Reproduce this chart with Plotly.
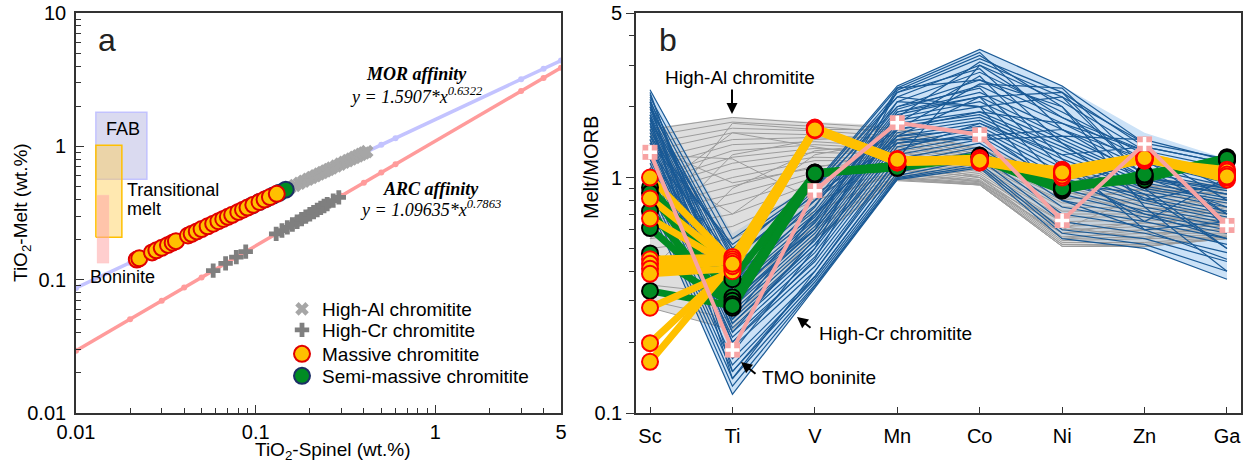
import numpy as np
import plotly.graph_objects as go

FONT = "Liberation Sans, Arial, sans-serif"
SERIF = "Liberation Serif, Times New Roman, serif"

# ---------------- Panel a: TiO2 melt vs TiO2 spinel ----------------
# fitted equations (coefficient, exponent)
mor_coef, mor_exp = 1.5907, 0.6322
arc_coef, arc_exp = 1.09635, 0.7863
fit_x = [0.01, 0.02, 0.03, 0.04, 0.05, 0.3, 0.4, 0.5, 0.6, 3, 4, 5]

high_al_sp = [0.155, 0.165, 0.175, 0.185, 0.195, 0.205, 0.215, 0.225, 0.235, 0.245,
              0.255, 0.265, 0.28, 0.295, 0.31, 0.325, 0.34, 0.355, 0.37, 0.385, 0.40, 0.415]
high_al_melt = [0.4894, 0.5091, 0.5284, 0.5474, 0.5658, 0.5841, 0.6020, 0.6196, 0.6368, 0.6537,
                0.6705, 0.6869, 0.7113, 0.7351, 0.7586, 0.7815, 0.8042, 0.8264, 0.8484, 0.8701,
                0.8913, 0.9122]

high_cr_sp = [0.058, 0.068, 0.078, 0.088, 0.13, 0.14, 0.15, 0.16, 0.17, 0.18, 0.19, 0.20,
              0.21, 0.22, 0.23, 0.24, 0.25, 0.27, 0.29]
high_cr_melt = [0.1168, 0.1324, 0.1475, 0.1622, 0.2204, 0.2336, 0.2466, 0.2594, 0.2721, 0.2846,
                0.2970, 0.3092, 0.3213, 0.3333, 0.3452, 0.3570, 0.3686, 0.3916, 0.4143]

massive_sp = [0.0218, 0.0225, 0.0265, 0.028, 0.030, 0.0325, 0.0345, 0.036, 0.042, 0.044,
              0.047, 0.050, 0.054, 0.058, 0.062, 0.066, 0.070, 0.074, 0.080, 0.085,
              0.090, 0.097, 0.105, 0.112, 0.120, 0.131]
massive_melt = [0.1416, 0.1445, 0.1602, 0.1659, 0.1733, 0.1823, 0.1893, 0.1945, 0.2144, 0.2208,
                0.2302, 0.2394, 0.2513, 0.2629, 0.2743, 0.2853, 0.2961, 0.3067, 0.3222, 0.3348,
                0.3471, 0.3639, 0.3826, 0.3985, 0.4164, 0.4401]

semi_sp = [0.095, 0.105, 0.115, 0.125, 0.135, 0.147]
semi_melt = [0.3591, 0.3826, 0.4053, 0.4272, 0.4485, 0.4733]

# reference fields: (TiO2-spinel range, TiO2-melt range)
fab_box = ([0.0129, 0.0248], [0.566, 1.80])
trans_box = ([0.0129, 0.018], [0.208, 1.02])
bon_box = ([0.0131, 0.01525], [0.133, 0.43])

# ---------------- Panel b: Melt/MORB spider diagram ----------------
elements = ["Sc", "Ti", "V", "Mn", "Co", "Ni", "Zn", "Ga"]

high_al_max = [1.62, 1.81, 1.72, 1.66, 1.35, 1.05, 1.00, 0.95]
high_al_min = [0.28, 0.225, 0.55, 0.97, 0.93, 0.51, 0.51, 0.55]
high_cr_max = [2.36, 0.58, 0.95, 2.45, 3.50, 2.45, 1.55, 1.20]
high_cr_min = [0.75, 0.12, 0.345, 0.98, 1.10, 0.55, 0.50, 0.37]

high_al_lines = [
    [1.60, 1.80, 1.70, 1.62, 1.30, 1.02, 0.98, 0.92],
    [1.50, 1.72, 1.65, 1.55, 1.28, 0.95, 0.92, 0.88],
    [1.40, 1.62, 1.58, 1.50, 1.25, 0.90, 0.88, 0.85],
    [1.30, 1.55, 1.52, 1.45, 1.22, 0.86, 0.84, 0.80],
    [1.20, 1.45, 1.48, 1.40, 1.20, 0.82, 0.80, 0.78],
    [1.10, 1.38, 1.42, 1.35, 1.18, 0.78, 0.78, 0.75],
    [1.00, 1.30, 1.38, 1.32, 1.15, 0.75, 0.74, 0.72],
    [0.95, 1.22, 1.33, 1.28, 1.12, 0.72, 0.72, 0.70],
    [0.90, 1.15, 1.28, 1.25, 1.10, 0.70, 0.70, 0.68],
    [0.85, 1.08, 1.22, 1.20, 1.08, 0.68, 0.68, 0.66],
    [0.80, 1.00, 1.18, 1.18, 1.06, 0.65, 0.66, 0.65],
    [0.75, 0.92, 1.12, 1.15, 1.04, 0.62, 0.64, 0.63],
    [0.70, 0.85, 1.05, 1.12, 1.02, 0.60, 0.62, 0.62],
    [0.65, 0.78, 1.00, 1.10, 1.00, 0.58, 0.60, 0.60],
    [0.60, 0.70, 0.95, 1.08, 0.98, 0.56, 0.58, 0.58],
    [0.55, 0.62, 0.88, 1.05, 0.97, 0.55, 0.56, 0.57],
    [0.50, 0.55, 0.80, 1.03, 0.96, 0.54, 0.55, 0.56],
    [0.45, 0.48, 0.72, 1.01, 0.95, 0.53, 0.53, 0.56],
    [0.40, 0.40, 0.66, 1.00, 0.94, 0.52, 0.52, 0.55],
    [0.35, 0.32, 0.60, 0.99, 0.93, 0.52, 0.51, 0.56],
    [0.30, 0.25, 0.56, 0.98, 0.93, 0.51, 0.51, 0.55],
    [0.28, 0.225, 0.55, 0.97, 0.93, 0.51, 0.51, 0.55],
    [0.55, 1.25, 1.45, 1.50, 1.25, 0.88, 0.70, 0.62],
    [1.35, 0.95, 1.10, 1.30, 1.10, 0.60, 0.85, 0.90],
    [0.85, 1.55, 1.35, 1.20, 1.00, 0.65, 0.58, 0.60],
    [1.15, 0.70, 1.25, 1.45, 1.22, 0.92, 0.75, 0.70],
    [1.55, 0.50, 0.70, 1.10, 1.00, 0.55, 0.60, 0.75],
    [0.60, 1.70, 1.60, 1.60, 1.32, 1.00, 0.95, 0.70],
    [1.25, 1.20, 0.80, 1.05, 0.96, 0.62, 0.55, 0.65],
    [0.40, 0.90, 1.30, 1.40, 1.15, 0.80, 0.90, 0.85],
    [0.95, 0.35, 0.62, 1.00, 0.94, 0.58, 0.65, 0.92],
]

high_cr_lines = [
    [2.36, 0.55, 0.95, 2.45, 3.50, 2.45, 1.40, 1.20],
    [2.20, 0.50, 0.90, 2.30, 3.20, 2.30, 1.35, 1.15],
    [2.10, 0.46, 0.85, 2.20, 3.00, 2.10, 1.30, 1.10],
    [2.00, 0.42, 0.80, 2.10, 2.80, 1.90, 1.25, 1.05],
    [1.90, 0.40, 0.76, 2.00, 2.60, 1.80, 1.20, 1.00],
    [1.85, 0.38, 0.72, 1.95, 2.45, 1.70, 1.15, 0.95],
    [1.80, 0.36, 0.70, 1.90, 2.30, 1.60, 1.10, 0.92],
    [1.75, 0.34, 0.68, 1.85, 2.20, 1.50, 1.05, 0.90],
    [1.70, 0.33, 0.66, 1.80, 2.10, 1.45, 1.00, 0.88],
    [1.65, 0.32, 0.64, 1.75, 2.00, 1.40, 0.98, 0.85],
    [1.60, 0.30, 0.62, 1.70, 1.90, 1.35, 0.95, 0.82],
    [1.55, 0.29, 0.60, 1.65, 1.85, 1.30, 0.92, 0.80],
    [1.50, 0.28, 0.58, 1.60, 1.80, 1.25, 0.90, 0.78],
    [1.45, 0.27, 0.56, 1.55, 1.75, 1.20, 0.88, 0.75],
    [1.40, 0.26, 0.54, 1.50, 1.70, 1.15, 0.85, 0.72],
    [1.35, 0.25, 0.52, 1.45, 1.65, 1.10, 0.82, 0.70],
    [1.30, 0.24, 0.50, 1.40, 1.60, 1.05, 0.80, 0.68],
    [1.25, 0.23, 0.48, 1.35, 1.55, 1.00, 0.78, 0.66],
    [1.20, 0.22, 0.46, 1.30, 1.50, 0.95, 0.75, 0.64],
    [1.15, 0.21, 0.44, 1.25, 1.45, 0.90, 0.72, 0.62],
    [1.10, 0.20, 0.42, 1.20, 1.40, 0.85, 0.70, 0.60],
    [1.05, 0.19, 0.40, 1.15, 1.35, 0.80, 0.68, 0.58],
    [1.00, 0.17, 0.38, 1.10, 1.30, 0.75, 0.65, 0.55],
    [0.95, 0.16, 0.37, 1.05, 1.25, 0.70, 0.62, 0.52],
    [0.90, 0.15, 0.36, 1.02, 1.20, 0.65, 0.58, 0.48],
    [0.85, 0.14, 0.35, 1.00, 1.15, 0.60, 0.55, 0.44],
    [0.80, 0.13, 0.345, 0.99, 1.12, 0.58, 0.52, 0.40],
    [0.75, 0.12, 0.34, 0.98, 1.10, 0.55, 0.50, 0.37],
    [2.25, 0.30, 0.60, 2.40, 3.40, 1.60, 1.00, 0.90],
    [1.95, 0.45, 0.88, 1.60, 2.50, 2.40, 1.10, 0.70],
    [1.40, 0.52, 0.92, 2.20, 2.00, 2.20, 1.40, 0.60],
    [1.70, 0.18, 0.50, 2.35, 3.30, 2.00, 0.90, 0.50],
    [2.30, 0.25, 0.70, 1.50, 1.60, 0.90, 1.20, 1.10],
    [1.20, 0.40, 0.80, 1.70, 2.70, 1.20, 0.60, 0.45],
    [1.80, 0.14, 0.40, 1.20, 3.00, 1.80, 1.30, 0.80],
    [2.00, 0.22, 0.55, 1.90, 2.20, 2.30, 1.00, 0.75],
    [1.60, 0.35, 0.75, 2.30, 2.90, 1.40, 0.80, 0.95],
    [1.30, 0.45, 0.85, 1.40, 1.50, 1.60, 1.20, 0.70],
    [2.10, 0.15, 0.38, 1.10, 1.25, 1.00, 0.70, 0.55],
    [1.50, 0.50, 0.90, 2.00, 2.40, 1.10, 0.65, 1.00],
    [1.10, 0.33, 0.60, 1.60, 1.90, 1.70, 1.30, 0.90],
    [2.15, 0.28, 0.65, 2.10, 2.00, 0.80, 0.60, 0.65],
    [1.85, 0.24, 0.52, 1.30, 1.70, 1.25, 1.35, 1.15],
    [0.95, 0.30, 0.70, 1.50, 2.20, 0.95, 0.85, 0.50],
    [1.75, 0.48, 0.93, 2.40, 2.60, 2.00, 0.75, 0.40],
    [1.45, 0.20, 0.45, 1.80, 3.10, 2.20, 1.00, 0.85],
    [2.05, 0.36, 0.80, 1.45, 1.45, 1.50, 1.45, 1.18],
]

massive_lines = [
    [1.00, 0.44, 1.62, 1.18, 1.20, 1.06, 1.22, 1.00],
    [0.815, 0.43, 1.60, 1.16, 1.18, 1.03, 1.20, 1.05],
    [0.67, 0.42, 1.63, 1.20, 1.16, 1.08, 1.24, 1.02],
    [0.45, 0.46, 1.61, 1.17, 1.19, 1.05, 1.18, 1.08],
    [0.43, 0.45, 1.62, 1.19, 1.17, 1.07, 1.21, 0.98],
    [0.41, 0.44, 1.60, 1.18, 1.21, 1.04, 1.23, 1.04],
    [0.39, 0.41, 1.59, 1.16, 1.18, 1.00, 1.19, 1.06],
    [0.28, 0.40, 1.61, 1.18, 1.16, 1.02, 1.20, 1.00],
    [0.198, 0.42, 1.62, 1.17, 1.20, 1.06, 1.22, 1.03],
    [0.165, 0.43, 1.60, 1.19, 1.18, 1.05, 1.21, 1.01],
]

semi_lines = [
    [0.907, 0.37, 1.04, 1.12, 1.22, 0.92, 1.02, 1.20],
    [0.86, 0.31, 1.05, 1.10, 1.24, 0.90, 1.00, 1.22],
    [0.72, 0.28, 1.03, 1.13, 1.20, 0.88, 1.04, 1.18],
    [0.61, 0.30, 1.04, 1.11, 1.23, 0.91, 0.98, 1.21],
    [0.476, 0.29, 1.05, 1.12, 1.21, 0.89, 1.01, 1.19],
    [0.33, 0.285, 1.04, 1.10, 1.22, 0.90, 1.03, 1.20],
]

tmo_boninite = [1.28, 0.185, 0.88, 1.71, 1.52, 0.657, 1.39, 0.626]

# ---------------- colours ----------------
C_MOR = "#c3c3ff"
C_ARC = "#ff9b9b"
C_AL = "#a6a6a6"
C_CR = "#7f7f7f"
C_YEL = "#ffc000"
C_RED = "#ff0000"
C_GRN = "#008c23"
C_NAVY = "#1c2f66"
C_BLUE_LINE = "#1a5a96"
C_PINK = "#f7a3a3"

fig = go.Figure()


def field(bx, fill, edge, width):
    (x0, x1), (y0, y1) = bx
    return go.Scatter(x=[x0, x1, x1, x0, x0], y=[y0, y0, y1, y1, y0], mode="lines",
                      fill="toself", fillcolor=fill, line=dict(color=edge, width=width),
                      showlegend=False, hoverinfo="skip", xaxis="x", yaxis="y")


# ---- panel a: reference fields ----
fig.add_trace(field(fab_box, "rgba(188,188,228,0.55)", "rgba(190,190,255,0.9)", 1.5))
fig.add_trace(field(trans_box, "rgba(255,205,80,0.45)", "#ffc000", 1.5))
fig.add_trace(field(bon_box, "rgba(255,165,165,0.55)", "rgba(255,190,190,0.5)", 0.5))

# ---- panel a: fitted lines ----
mor_y = [mor_coef * v ** mor_exp for v in fit_x]
arc_y = [arc_coef * v ** arc_exp for v in fit_x]
fig.add_trace(go.Scatter(x=fit_x, y=mor_y, mode="lines+markers",
                         line=dict(color=C_MOR, width=3.5),
                         marker=dict(color=C_MOR, size=6),
                         showlegend=False, hoverinfo="skip", xaxis="x", yaxis="y"))
fig.add_trace(go.Scatter(x=fit_x, y=arc_y, mode="lines+markers",
                         line=dict(color=C_ARC, width=3.5),
                         marker=dict(color=C_ARC, size=6),
                         showlegend=False, hoverinfo="skip", xaxis="x", yaxis="y"))

# ---- panel a: samples (each in its own legend so rows can be spaced freely) ----
fig.add_trace(go.Scatter(x=high_al_sp, y=high_al_melt, mode="markers", name="High-Al chromitite",
                         marker=dict(symbol="x", color=C_AL, size=12, line=dict(width=0)),
                         legend="legend", xaxis="x", yaxis="y"))
fig.add_trace(go.Scatter(x=high_cr_sp, y=high_cr_melt, mode="markers", name="High-Cr chromitite",
                         marker=dict(symbol="cross", color=C_CR, size=12, line=dict(width=0)),
                         legend="legend2", xaxis="x", yaxis="y"))
fig.add_trace(go.Scatter(x=semi_sp, y=semi_melt, mode="markers", name="Semi-massive chromitite",
                         marker=dict(symbol="circle", color=C_GRN, size=16,
                                     line=dict(color=C_NAVY, width=2)),
                         legend="legend4", xaxis="x", yaxis="y"))
fig.add_trace(go.Scatter(x=massive_sp, y=massive_melt, mode="markers", name="Massive chromitite",
                         marker=dict(symbol="circle", color=C_YEL, size=16,
                                     line=dict(color="#e00000", width=2)),
                         legend="legend3", xaxis="x", yaxis="y"))

# ---- panel b: envelopes ----
env_x = elements + elements[::-1]
fig.add_trace(go.Scatter(x=env_x, y=high_cr_max + high_cr_min[::-1], fill="toself",
                         fillcolor="rgba(204,226,247,1)", line=dict(width=0),
                         mode="lines", showlegend=False, hoverinfo="skip",
                         xaxis="x2", yaxis="y2"))
fig.add_trace(go.Scatter(x=env_x, y=high_al_max + high_al_min[::-1], fill="toself",
                         fillcolor="rgba(195,195,195,0.55)", line=dict(width=0),
                         mode="lines", showlegend=False, hoverinfo="skip",
                         xaxis="x2", yaxis="y2"))

# ---- panel b: sample patterns ----
for row in high_al_lines:
    fig.add_trace(go.Scatter(x=elements, y=row, mode="lines",
                             line=dict(color="#9c9c9c", width=1),
                             showlegend=False, hoverinfo="skip", xaxis="x2", yaxis="y2"))
for row in high_cr_lines:
    fig.add_trace(go.Scatter(x=elements, y=row, mode="lines",
                             line=dict(color=C_BLUE_LINE, width=1.2),
                             showlegend=False, hoverinfo="skip", xaxis="x2", yaxis="y2"))
for row in semi_lines:
    fig.add_trace(go.Scatter(x=elements, y=row, mode="lines",
                             line=dict(color=C_GRN, width=7),
                             showlegend=False, hoverinfo="skip", xaxis="x2", yaxis="y2"))
for row in massive_lines:
    fig.add_trace(go.Scatter(x=elements, y=row, mode="lines",
                             line=dict(color=C_YEL, width=7),
                             showlegend=False, hoverinfo="skip", xaxis="x2", yaxis="y2"))
for row in semi_lines:
    fig.add_trace(go.Scatter(x=elements, y=row, mode="markers",
                             marker=dict(color=C_GRN, size=16, line=dict(color="black", width=2)),
                             showlegend=False, hoverinfo="skip", xaxis="x2", yaxis="y2"))
for row in massive_lines:
    fig.add_trace(go.Scatter(x=elements, y=row, mode="markers",
                             marker=dict(color=C_YEL, size=16, line=dict(color=C_RED, width=2)),
                             showlegend=False, hoverinfo="skip", xaxis="x2", yaxis="y2"))
fig.add_trace(go.Scatter(x=elements, y=tmo_boninite, mode="lines+markers",
                         line=dict(color=C_PINK, width=4),
                         marker=dict(symbol="square", color=C_PINK, size=15, line=dict(width=0)),
                         showlegend=False, hoverinfo="skip", xaxis="x2", yaxis="y2"))
fig.add_trace(go.Scatter(x=elements, y=tmo_boninite, mode="markers",
                         marker=dict(symbol="cross-thin", size=10, color="white",
                                     line=dict(color="white", width=3.5)),
                         showlegend=False, hoverinfo="skip", xaxis="x2", yaxis="y2"))

# ---- axes ----
axis_common = dict(showline=True, linecolor="#333333", linewidth=1.6, mirror=True,
                   showgrid=False, zeroline=False, tickcolor="#333333", automargin=False,
                   tickfont=dict(family=FONT, size=20, color="black"))

minor_a_x = [0.02, 0.03, 0.04, 0.05, 0.06, 0.07, 0.08, 0.09,
             0.2, 0.3, 0.4, 0.5, 0.6, 0.7, 0.8, 0.9, 2, 3, 4]
minor_a_y = [0.02, 0.03, 0.04, 0.05, 0.06, 0.07, 0.08, 0.09,
             0.2, 0.3, 0.4, 0.5, 0.6, 0.7, 0.8, 0.9, 2, 3, 4, 5, 6, 7, 8, 9]
minor_b_y = [0.2, 0.3, 0.4, 0.5, 0.6, 0.7, 0.8, 0.9, 2, 3, 4]

W, H = 1249, 466


def legend_at(top_px):
    return dict(x=282 / W, y=1 - top_px / H, xanchor="left", yanchor="top",
                bgcolor="rgba(0,0,0,0)", font=dict(family=FONT, size=19, color="black"),
                itemsizing="trace")


fig.update_layout(
    template="none",
    width=W, height=H,
    margin=dict(l=0, r=0, t=0, b=0, autoexpand=False),
    paper_bgcolor="white", plot_bgcolor="white",
    font=dict(family=FONT, size=19, color="black"),
    xaxis=dict(domain=[76 / W, 561 / W], type="log", range=[-2, np.log10(5)], anchor="y",
               ticks="inside", ticklen=8, tickwidth=1.3,
               tickvals=[0.01, 0.1, 1, 5], ticktext=["0.01", "0.1", "1", "5"],
               minor=dict(tickvals=minor_a_x, ticks="inside", ticklen=5, tickwidth=1.2,
                          tickcolor="#333333"),
               **axis_common),
    yaxis=dict(domain=[53 / H, 453 / H], type="log", range=[-2, 1], anchor="x",
               ticks="inside", ticklen=8, tickwidth=1.3, ticklabelstandoff=4,
               tickvals=[0.01, 0.1, 1, 10], ticktext=["0.01", "0.1", "1", "10"],
               minor=dict(tickvals=minor_a_y, ticks="inside", ticklen=5, tickwidth=1.2,
                          tickcolor="#333333"),
               **axis_common),
    xaxis2=dict(domain=[636 / W, 1241 / W], type="category", range=[-0.17, 7.17],
                anchor="y2", ticks="inside", ticklen=6, tickwidth=1.3, ticklabelstandoff=4,
                categoryorder="array", categoryarray=elements,
                **axis_common),
    yaxis2=dict(domain=[53 / H, 453 / H], type="log", range=[-1, np.log10(5)], anchor="x2",
                ticks="outside", ticklen=8, tickwidth=1.3,
                tickvals=[0.1, 1, 5], ticktext=["0.1", "1", "5"],
                minor=dict(tickvals=minor_b_y, ticks="outside", ticklen=5, tickwidth=1.2,
                           tickcolor="#333333"),
                **axis_common),
    legend=legend_at(290),
    legend2=legend_at(311),
    legend3=legend_at(335),
    legend4=legend_at(357),
)


def txt(x, y, s, size=19, xanchor="center", family=FONT, angle=0, color="black"):
    return dict(x=x / W, y=1 - y / H, xref="paper", yref="paper", text=s, showarrow=False,
                xanchor=xanchor, yanchor="middle", textangle=angle,
                font=dict(family=family, size=size, color=color))


annotations = [
    txt(107, 40, "a", size=32, color="#222222"),
    txt(668, 40, "b", size=32, color="#222222"),
    txt(333, 451, "TiO<sub>2</sub>-Spinel (wt.%)", size=19),
    txt(22, 213, "TiO<sub>2</sub>-Melt (wt.%)", size=19, angle=-90),
    txt(591, 168, "Melt/MORB", size=20, angle=-90),
    txt(123, 129, "FAB", size=18),
    txt(125, 190, "Transitional", size=18, xanchor="left"),
    txt(125, 209, "melt", size=18, xanchor="left"),
    txt(122, 277, "Boninite", size=18),
    txt(416, 74, "<b><i>MOR affinity</i></b>", size=18, family=SERIF),
    txt(416, 95, "<i>y = 1.5907*x<sup>0.6322</sup></i>", size=18, family=SERIF),
    txt(431, 189, "<b><i>ARC affinity</i></b>", size=18, family=SERIF),
    txt(430, 208, "<i>y = 1.09635*x<sup>0.7863</sup></i>", size=18, family=SERIF),
    txt(740, 77, "High-Al chromitite", size=19),
    txt(817, 333, "High-Cr chromitite", size=19, xanchor="left"),
    txt(760, 377, "TMO boninite", size=19, xanchor="left"),
]


def arrow(tx, ty, dx, dy):
    return dict(x=tx / W, y=1 - ty / H, xref="paper", yref="paper", text="",
                showarrow=True, ax=dx, ay=dy, axref="pixel", ayref="pixel",
                arrowhead=2, arrowsize=1.1, arrowwidth=2, arrowcolor="black")


annotations += [
    arrow(732, 114, 0, -26),
    arrow(797, 317, 15, 12),
    arrow(741, 362, 16, 13),
]
fig.update_layout(annotations=annotations)

fig.write_html("out.html")
